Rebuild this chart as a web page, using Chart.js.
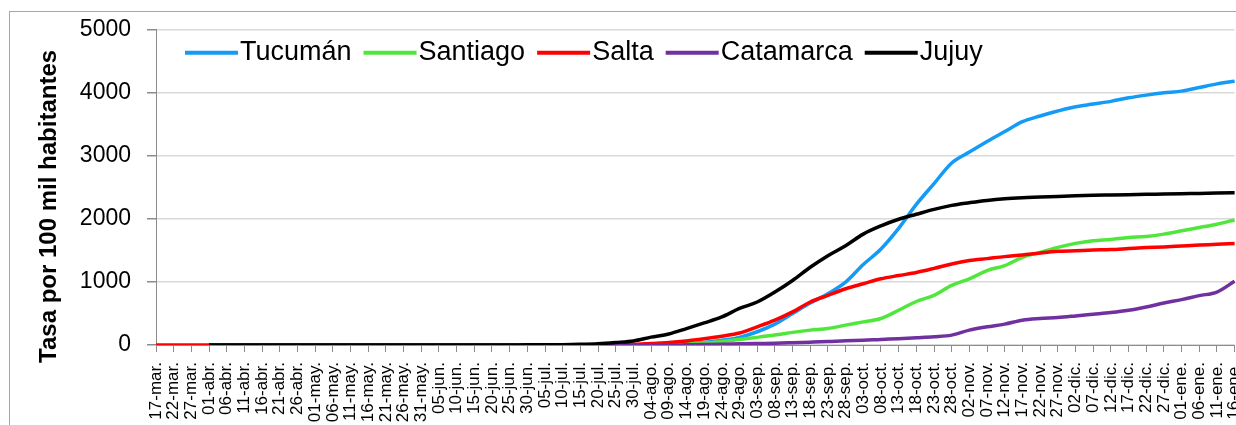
<!DOCTYPE html>
<html lang="es">
<head>
<meta charset="utf-8">
<title>Tasa por 100 mil habitantes</title>
<script src="https://cdn.jsdelivr.net/npm/chart.js@4.4.1/dist/chart.umd.min.js"></script>
<style>
  html, body { margin: 0; padding: 0; background: #fff; }
  #wrap { position: relative; width: 1236px; height: 425px; overflow: hidden; }
  #frame { position: absolute; left: 9px; top: 11px; width: 1400px; height: 600px;
           border-left: 1px solid #a6a6a6; border-top: 1px solid #a6a6a6; }
  #chart { position: absolute; left: 0; top: 0; width: 1265px; height: 425px; }
</style>
</head>
<body>
<div id="wrap">
  <div id="frame"></div>
  <canvas id="chart" width="1265" height="425"></canvas>
</div>
<script>
// fechas cada 5 dias
const labels = [
  '17-mar.', '22-mar.', '27-mar.', '01-abr.', '06-abr.', '11-abr.', '16-abr.', '21-abr.', '26-abr.',
  '01-may.', '06-may.', '11-may.', '16-may.', '21-may.', '26-may.', '31-may.',
  '05-jun.', '10-jun.', '15-jun.', '20-jun.', '25-jun.', '30-jun.',
  '05-jul.', '10-jul.', '15-jul.', '20-jul.', '25-jul.', '30-jul.',
  '04-ago.', '09-ago.', '14-ago.', '19-ago.', '24-ago.', '29-ago.',
  '03-sep.', '08-sep.', '13-sep.', '18-sep.', '23-sep.', '28-sep.',
  '03-oct.', '08-oct.', '13-oct.', '18-oct.', '23-oct.', '28-oct.',
  '02-nov.', '07-nov.', '12-nov.', '17-nov.', '22-nov.', '27-nov.',
  '02-dic.', '07-dic.', '12-dic.', '17-dic.', '22-dic.', '27-dic.',
  '01-ene.', '06-ene.', '11-ene.', '16-ene.'
];

const tucuman = [
  null, null, null, 0, 0, 0, 0, 0, 0,
  0, 0, 0, 0, 0, 0, 0,
  0, 0, 0, 0, 0, 0,
  0, 0, 0, 1, 2, 3,
  5, 10, 20, 40, 75, 121,
  210, 331, 499, 666, 814, 997,
  1276, 1523, 1850, 2230, 2560, 2887,
  3060, 3228, 3386, 3543, 3633, 3712,
  3780, 3822, 3865, 3921, 3964, 4000,
  4027, 4084, 4142, 4184
];

const santiago = [
  null, null, null, 0, 0, 0, 0, 0, 0,
  0, 0, 0, 0, 0, 0, 0,
  0, 0, 0, 0, 0, 0,
  0, 0, 0, 0, 1, 2,
  3, 5, 15, 30, 55, 89,
  121, 157, 200, 236, 262, 315,
  367, 420, 551, 690, 787, 945,
  1050, 1181, 1260, 1391, 1470, 1549,
  1612, 1654, 1675, 1706, 1722, 1759,
  1811, 1863, 1916, 1984
];

const salta = [
  0, 0, 0, 0, 0, 0, 0, 0, 0,
  0, 0, 0, 0, 0, 0, 0,
  0, 0, 0, 0, 0, 0,
  0, 0, 2, 4, 6, 10,
  25, 40, 65, 100, 140, 190,
  288, 394, 525, 682, 787, 892,
  972, 1050, 1102, 1150, 1215, 1286,
  1339, 1370, 1402, 1428, 1460, 1486,
  1496, 1507, 1515, 1530, 1545, 1555,
  1570, 1585, 1598, 1612
];

const catamarca = [
  null, null, null, 0, 0, 0, 0, 0, 0,
  0, 0, 0, 0, 0, 0, 0,
  0, 0, 0, 0, 0, 0,
  0, 0, 0, 0, 0, 0,
  0, 0, 3, 6, 10, 18,
  24, 28, 36, 45, 55, 68,
  75, 89, 100, 115, 131, 157,
  236, 288, 331, 394, 420, 436,
  461, 488, 515, 551, 603, 666,
  720, 783, 840, 1010
];

const jujuy = [
  null, null, null, 0, 0, 0, 0, 0, 0,
  0, 0, 0, 0, 0, 0, 0,
  0, 0, 0, 0, 1, 2,
  3, 5, 10, 20, 40, 65,
  125, 175, 260, 350, 445, 580,
  682, 840, 1024, 1233, 1417, 1575,
  1759, 1890, 1995, 2074, 2152, 2215,
  2257, 2294, 2320, 2336, 2346, 2357,
  2367, 2375, 2380, 2385, 2390, 2395,
  2400, 2405, 2410, 2414
];

const yTicks = [0, 1000, 2000, 3000, 4000, 5000];
const yTitleText = 'Tasa por 100 mil habitantes';

const FONT = '"Liberation Sans", Arial, sans-serif';
Chart.defaults.font.family = FONT;
Chart.defaults.color = '#000';

// leyenda dentro del area del grafico, arriba a la izquierda
const legendInside = {
  id: 'legendInside',
  afterDraw(chart) {
    const {ctx, chartArea} = chart;
    ctx.save();
    ctx.font = '27px ' + FONT;
    ctx.textBaseline = 'middle';
    ctx.textAlign = 'left';
    let x = chartArea.left + 29;
    const y = chartArea.top + 23;
    chart.data.datasets.forEach(ds => {
      ctx.strokeStyle = ds.borderColor;
      ctx.lineWidth = 4;
      ctx.beginPath();
      ctx.moveTo(x, y);
      ctx.lineTo(x + 53, y);
      ctx.stroke();
      x += 55;
      ctx.fillStyle = '#000';
      ctx.fillText(ds.label, x, y);
      x += ctx.measureText(ds.label).width + 12;
    });
    ctx.restore();
  }
};

// titulo del eje Y (centrado como en Excel, algo mas abajo que el area)
const yTitle = {
  id: 'yTitle',
  afterDraw(chart) {
    const {ctx, chartArea} = chart;
    ctx.save();
    ctx.translate(chartArea.left - 107, (chartArea.top + chartArea.bottom) / 2 + 19);
    ctx.rotate(-Math.PI / 2);
    ctx.font = 'bold 24px ' + FONT;
    ctx.textAlign = 'center';
    ctx.textBaseline = 'middle';
    ctx.fillStyle = '#000';
    ctx.fillText(yTitleText, 0, 0);
    ctx.restore();
  }
};

function line(label, data, color, order) {
  return {
    label: label,
    data: data,
    borderColor: color,
    backgroundColor: color,
    borderWidth: 3.5,
    pointRadius: 0,
    cubicInterpolationMode: 'monotone',
    fill: false,
    order: order
  };
}

new Chart(document.getElementById('chart'), {
  type: 'line',
  data: {
    labels: labels,
    datasets: [
      line('Tucumán', tucuman, '#149bf5', 5),
      line('Santiago', santiago, '#50e63c', 4),
      line('Salta', salta, '#ff0000', 3),
      line('Catamarca', catamarca, '#7030a0', 2),
      line('Jujuy', jujuy, '#000000', 1)
    ]
  },
  options: {
    responsive: false,
    animation: false,
    layout: { padding: { top: 27, left: 0, right: 0, bottom: 0 } },
    plugins: {
      legend: { display: false },
      tooltip: { enabled: false }
    },
    scales: {
      x: {
        grid: { drawOnChartArea: false, drawTicks: true, tickLength: 7, tickColor: '#8c8c8c' },
        border: { color: '#8c8c8c', width: 1 },
        ticks: {
          autoSkip: false,
          minRotation: 90,
          maxRotation: 90,
          padding: 10,
          color: '#000',
          font: { size: 17 }
        },
        afterFit(scale) { scale.height = 80; }
      },
      y: {
        min: 0,
        max: 5000,
        afterBuildTicks(scale) { scale.ticks = yTicks.map(v => ({ value: v })); },
        grid: { color: '#d9d9d9', lineWidth: 1.5, tickLength: 9, tickColor: '#8c8c8c' },
        border: { color: '#8c8c8c', width: 1 },
        ticks: {
          padding: 16,
          color: '#000',
          font: { size: 23 },
          callback(value) { return String(value); }
        },
        afterFit(scale) { scale.width = 156; }
      }
    }
  },
  plugins: [legendInside, yTitle]
});
</script>
</body>
</html>
